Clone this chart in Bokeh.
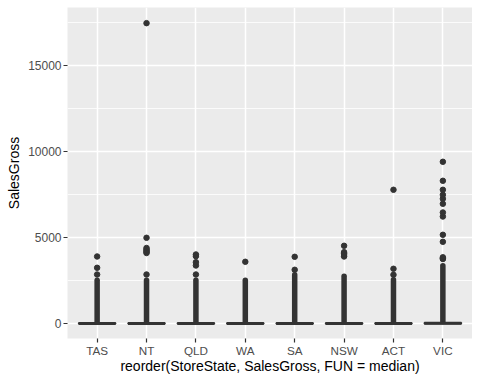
from bokeh.plotting import figure
from bokeh.models import FactorRange, Range1d, FixedTicker, ColumnDataSource
from bokeh.embed import file_html
from bokeh.resources import INLINE

# ---- data ----
states = ["TAS", "NT", "QLD", "WA", "SA", "NSW", "ACT", "VIC"]

# box statistics (boxes are squashed near zero)
whisker_low = [0, 0, 0, 0, 0, 0, 0, 0]
q1 = [5, 5, 5, 5, 5, 5, 5, 5]
median = [15, 20, 20, 15, 15, 20, 20, 25]
q3 = [45, 50, 50, 45, 45, 50, 50, 60]
whisker_high = [105, 115, 115, 105, 105, 115, 115, 140]

# top of the densely packed run of outliers above each whisker
dense_top = [2530, 2530, 2530, 2530, 2855, 2762, 2564, 3378]

# individual (sparser) outliers
out_state = (
    ["TAS"] * 3
    + ["NT"] * 8
    + ["QLD"] * 5
    + ["WA"] * 1
    + ["SA"] * 2
    + ["NSW"] * 5
    + ["ACT"] * 3
    + ["VIC"] * 13
)
out_value = (
    [2866, 3256, 3913]
    + [2866, 4116, 4180, 4250, 4320, 4407, 5000, 17480]
    + [2866, 3390, 3581, 3930, 4029]
    + [3605]
    + [3140, 3895]
    + [3913, 4000, 4080, 4163, 4535]
    + [2849, 3198, 7791]
    + [3767, 3800, 3866, 4767, 5174, 6238, 6471, 6977, 7268, 7500, 7791, 8314, 9419]
)

y_ticks = [0, 5000, 10000, 15000]
y_minor = [2500, 7500, 12500, 17500]

# ---- figure ----
FONT = "Liberation Sans"
p = figure(
    x_range=FactorRange(factors=states, range_padding=0.025),
    y_range=Range1d(-855, 18390),
    width=472, height=378,
    output_backend="svg", toolbar_location=None,
    min_border_left=67, min_border_right=0, min_border_top=7, min_border_bottom=40,
)
p.background_fill_color = "#EBEBEB"
p.border_fill_color = "white"
p.outline_line_color = None

# grid
p.xgrid.grid_line_color = "white"
p.xgrid.grid_line_width = 1.5
p.ygrid.grid_line_color = "white"
p.ygrid.grid_line_width = 1.5
p.ygrid.minor_grid_line_color = "white"
p.ygrid.minor_grid_line_width = 0.8

# axes
p.yaxis.ticker = FixedTicker(ticks=y_ticks, minor_ticks=y_minor)
p.yaxis.formatter.use_scientific = False
for ax in (p.xaxis[0], p.yaxis[0]):
    ax.axis_line_color = None
    ax.major_tick_line_color = "#333333"
    ax.major_tick_line_width = 1.2
    ax.major_tick_in = 0
    ax.major_tick_out = 4
    ax.minor_tick_in = 0
    ax.minor_tick_out = 0
    ax.major_label_text_color = "#4D4D4D"
    ax.major_label_text_font = FONT
    ax.axis_label_text_font = FONT
    ax.axis_label_text_font_style = "normal"
    ax.axis_label_text_color = "black"
    ax.axis_label_text_font_size = "14px"

p.xaxis.major_label_text_font_size = "11.7px"
p.yaxis.major_label_text_font_size = "12px"
p.xaxis.major_label_standoff = 1
p.yaxis.major_label_standoff = 2
p.xaxis.axis_label_standoff = -2
p.yaxis.axis_label_standoff = 3
p.xaxis.axis_label = "reorder(StoreState, SalesGross, FUN = median)"
p.yaxis.axis_label = "SalesGross"

GREY20 = "#333333"

# dense runs of outliers
p.segment(x0=states, y0=whisker_high, x1=states, y1=dense_top,
          line_color=GREY20, line_width=5.5, line_cap="round")

# whiskers
p.segment(x0=states, y0=q3, x1=states, y1=whisker_high,
          line_color=GREY20, line_width=1.5)
p.segment(x0=states, y0=whisker_low, x1=states, y1=q1,
          line_color=GREY20, line_width=1.5)

# boxes
p.vbar(x=states, bottom=q1, top=q3, width=0.75,
       fill_color="white", line_color=GREY20, line_width=1.5)
# medians
p.vbar(x=states, bottom=median, top=median, width=0.75,
       fill_color=None, line_color=GREY20, line_width=3)

# outliers
src = ColumnDataSource(dict(x=out_state, y=out_value))
p.scatter(x="x", y="y", source=src, size=5.5, color=GREY20)

open("out.html", "w").write(file_html(p, INLINE))
